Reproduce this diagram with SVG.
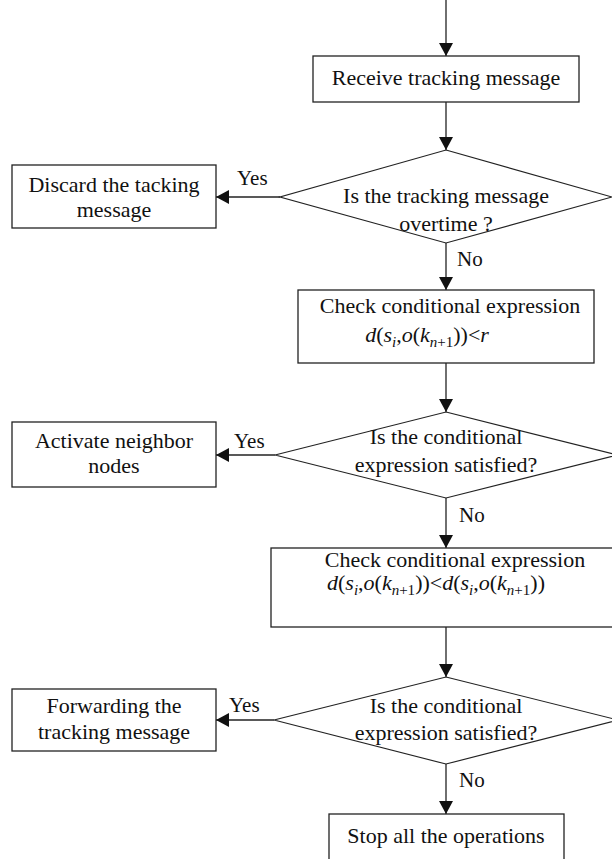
<svg xmlns="http://www.w3.org/2000/svg" width="612" height="859" viewBox="0 0 612 859">
<style>
.box{fill:#fff;stroke:#222;stroke-width:1.3}
.dia{fill:#fff;stroke:#222;stroke-width:1.2}
.ln{fill:none;stroke:#222;stroke-width:1.3}
text{font-family:"Liberation Serif","Times New Roman",serif;font-size:22px;fill:#111}
.c{text-anchor:middle}
.lbl{font-size:21px}
.it{font-style:italic}
.sub{font-size:15px}
</style>
<defs>
<marker id="ah" markerUnits="userSpaceOnUse" markerWidth="14" markerHeight="14" refX="13" refY="7" orient="auto">
<path d="M0,0 L13,7 L0,14 z" fill="#111"/>
</marker>
</defs>
<rect width="612" height="859" fill="#fff"/>
<g id="connectors">
<line class="ln" x1="446" y1="0" x2="446" y2="56" marker-end="url(#ah)"/>
<line class="ln" x1="446" y1="102" x2="446" y2="150" marker-end="url(#ah)"/>
<line class="ln" x1="446" y1="243" x2="446" y2="290" marker-end="url(#ah)"/>
<line class="ln" x1="446" y1="363" x2="446" y2="412" marker-end="url(#ah)"/>
<line class="ln" x1="446" y1="498" x2="446" y2="548" marker-end="url(#ah)"/>
<line class="ln" x1="446" y1="627" x2="446" y2="677" marker-end="url(#ah)"/>
<line class="ln" x1="446" y1="764" x2="446" y2="814" marker-end="url(#ah)"/>
<line class="ln" x1="280" y1="197" x2="216" y2="197" marker-end="url(#ah)"/>
<line class="ln" x1="275" y1="455" x2="216" y2="455" marker-end="url(#ah)"/>
<line class="ln" x1="274" y1="720" x2="216" y2="720" marker-end="url(#ah)"/>
<text class="lbl" x="237" y="185">Yes</text>
<text class="lbl" x="234" y="448">Yes</text>
<text class="lbl" x="229" y="712">Yes</text>
<text class="lbl" x="457" y="266">No</text>
<text class="lbl" x="459" y="522">No</text>
<text class="lbl" x="459" y="787">No</text>
</g>
<g id="receive">
<rect class="box" x="313" y="56" width="266" height="46"/>
<text class="c" x="446" y="85">Receive tracking message</text>
</g>
<g id="overtime">
<polygon class="dia" points="446,150 612,197 446,243 280,197"/>
<text class="c" x="446" y="203">Is the tracking message</text>
<text class="c" x="446" y="231">overtime ?</text>
</g>
<g id="discard">
<rect class="box" x="12" y="165" width="204" height="63"/>
<text class="c" x="114" y="192">Discard the tacking</text>
<text class="c" x="114" y="217">message</text>
</g>
<g id="check1">
<rect class="box" x="298" y="290" width="296" height="73"/>
<text class="c" x="450" y="313">Check conditional expression</text>
<text class="c" x="427" y="342"><tspan class="it">d</tspan>(<tspan class="it">s</tspan><tspan class="it sub" dy="5">i</tspan><tspan dy="-5">,</tspan><tspan class="it">o</tspan>(<tspan class="it">k</tspan><tspan class="sub" dy="5"><tspan class="it">n</tspan>+1</tspan><tspan dy="-5">))&lt;</tspan><tspan class="it">r</tspan></text>
</g>
<g id="cond1">
<polygon class="dia" points="446,412 617,455 446,498 275,455"/>
<text class="c" x="446" y="444">Is the conditional</text>
<text class="c" x="446" y="472">expression satisfied?</text>
</g>
<g id="activate">
<rect class="box" x="12" y="422" width="204" height="65"/>
<text class="c" x="114" y="448">Activate neighbor</text>
<text class="c" x="114" y="473">nodes</text>
</g>
<g id="check2">
<rect class="box" x="271" y="548" width="350" height="79"/>
<text class="c" x="455" y="567">Check conditional expression</text>
<text x="327" y="590"><tspan class="it">d</tspan>(<tspan class="it">s</tspan><tspan class="it sub" dy="5">i</tspan><tspan dy="-5">,</tspan><tspan class="it">o</tspan>(<tspan class="it">k</tspan><tspan class="sub" dy="5"><tspan class="it">n</tspan>+1</tspan><tspan dy="-5">))&lt;</tspan><tspan class="it">d</tspan>(<tspan class="it">s</tspan><tspan class="it sub" dy="5">i</tspan><tspan dy="-5">,</tspan><tspan class="it">o</tspan>(<tspan class="it">k</tspan><tspan class="sub" dy="5"><tspan class="it">n</tspan>+1</tspan><tspan dy="-5">))</tspan></text>
</g>
<g id="cond2">
<polygon class="dia" points="446,677 618,720 446,764 274,720"/>
<text class="c" x="446" y="713">Is the conditional</text>
<text class="c" x="446" y="740">expression satisfied?</text>
</g>
<g id="forward">
<rect class="box" x="12" y="689" width="204" height="62"/>
<text class="c" x="114" y="713">Forwarding the</text>
<text class="c" x="114" y="739">tracking message</text>
</g>
<g id="stop">
<rect class="box" x="329" y="814" width="235" height="60"/>
<text class="c" x="446" y="843">Stop all the operations</text>
</g>
</svg>
